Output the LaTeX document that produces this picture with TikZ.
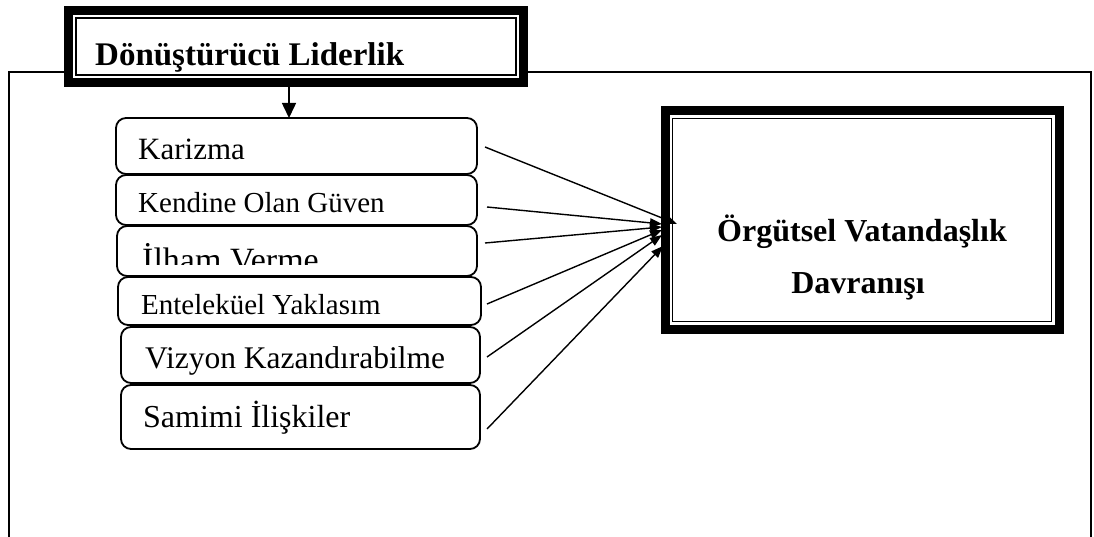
\documentclass[tikz,border=0pt]{standalone}
\usepackage{fontspec}
\setmainfont{Liberation Serif}
\usetikzlibrary{arrows.meta}
\begin{document}
\begin{tikzpicture}[x=1pt,y=-1pt,
  itembox/.style={draw, line width=1.8pt, rounded corners=10pt, fill=white, inner sep=0pt, outer sep=0pt},
  itemtext/.style={anchor=base west, inner sep=0pt},
  thickframe/.style={draw, line width=9pt, fill=white, inner sep=0pt, outer sep=0pt},
  thinframe/.style={line width=1.4pt},
  conn/.style={line width=1.4pt, -{Triangle[length=12pt,width=9pt]}}
]
\useasboundingbox (0,0) rectangle (1094,537);
% outer frame
\coordinate (fbl) at (9,537);
\coordinate (ftl) at (9,72);
\coordinate (ftr) at (1091,72);
\coordinate (fbr) at (1091,537);
\draw[line width=1.8pt] (fbl) -- (ftl) -- (ftr) -- (fbr);

% title box
\node[thickframe, minimum width=455pt, minimum height=72pt] (title) at (296,46.5) {};
\draw[thinframe] ([shift={(7.5pt,-7.5pt)}]title.north west) rectangle ([shift={(-7.5pt,7.5pt)}]title.south east);
\node[itemtext, font=\bfseries\fontsize{33}{33}\selectfont] (titletext) at (95,66) {Dönüştürücü Liderlik};

% right box
\node[thickframe, minimum width=394pt, minimum height=218pt] (ovd) at (862,220) {};
\draw[thinframe] ([shift={(7.5pt,-7.5pt)}]ovd.north west) rectangle ([shift={(-7.5pt,7.5pt)}]ovd.south east);
\node[anchor=base, inner sep=0pt, font=\bfseries\fontsize{32}{32}\selectfont] (ovd1) at (862,242) {Örgütsel Vatandaşlık};
\node[anchor=base, inner sep=0pt, font=\bfseries\fontsize{32}{32}\selectfont] (ovd2) at (858,293) {Davranışı};

% item boxes
\node[itembox, minimum width=361pt, minimum height=56pt] (b1) at (296.5,146) {};
\node[itembox, minimum width=361pt, minimum height=50pt] (b2) at (296.5,200) {};
\node[itembox, minimum width=360pt, minimum height=50pt] (b3) at (297,251) {};
\node[itembox, minimum width=363pt, minimum height=48pt] (b4) at (299.5,301) {};
\node[itembox, minimum width=359pt, minimum height=56pt] (b5) at (300.5,355) {};
\node[itembox, minimum width=359pt, minimum height=64pt] (b6) at (300.5,417) {};

\node[itemtext, font=\fontsize{31}{31}\selectfont] (t1) at (138,160) {Karizma};
\node[itemtext, font=\fontsize{29}{29}\selectfont] (t2) at (138,213) {Kendine Olan Güven};
\begin{scope}
  \clip (117,226) rectangle (477,264);
  \node[itemtext, font=\fontsize{34}{34}\selectfont] (t3) at (142,271) {İlham Verme};
\end{scope}
\node[itemtext, font=\fontsize{29}{29}\selectfont] (t4) at (141,314) {Enteleküel Yaklasım};
\node[itemtext, font=\fontsize{31.5}{31.5}\selectfont] (t5) at (145,368) {Vizyon Kazandırabilme};
\node[itemtext, font=\fontsize{32}{32}\selectfont] (t6) at (143,427) {Samimi İlişkiler};

% arrow title -> first box
\draw[line width=1.5pt, -{Triangle[length=15pt,width=14pt]}] ([shift={(-7pt,-4.5pt)}]title.south) -- ([xshift=-7pt]title.south |- b1.north);

% connectors
\coordinate (s1) at (485,147);
\coordinate (s2) at (487,207);
\coordinate (s3) at (485,243);
\coordinate (s4) at (487,304);
\coordinate (s5) at (487,357);
\coordinate (s6) at (487,429);
\coordinate (e1) at (677,224);
\coordinate (e2) at (662,224);
\coordinate (e3) at (662,227);
\coordinate (e4) at (662,230);
\coordinate (e5) at (662,235);
\coordinate (e6) at (663,246);
\foreach \i in {1,...,6} {\draw[conn] (s\i) -- (e\i);}
\end{tikzpicture}
\end{document}
